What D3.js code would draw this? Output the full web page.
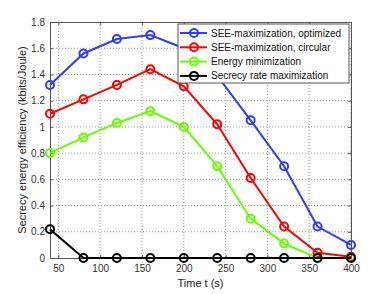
<!DOCTYPE html>
<html>
<head>
<meta charset="utf-8">
<script src="https://cdn.jsdelivr.net/npm/d3@7"></script>
<style>
  body { margin: 0; background: #fff; }
  text { font-family: "Liberation Sans", Arial, sans-serif; }
</style>
</head>
<body>
<div id="chart"></div>
<script>
// time axis (s)
const times = [40, 80, 120, 160, 200, 240, 280, 320, 360, 400]

const seeOptimized = [1.32, 1.56, 1.67, 1.70, 1.60, 1.39, 1.05, 0.70, 0.24, 0.10]
const seeCircular = [1.10, 1.21, 1.32, 1.44, 1.31, 1.02, 0.61, 0.24, 0.04, 0.01]
const energyMin = [0.80, 0.92, 1.03, 1.12, 1.00, 0.70, 0.30, 0.11, 0.00, 0.00]
const secrecyRateMax = [0.22, 0, 0, 0, 0, 0, 0, 0, 0, 0]

const seriesNames = ['SEE-maximization, optimized', 'SEE-maximization, circular', 'Energy minimization', 'Secrecy rate maximization']
const seriesColors = ['#2f3cff', '#ff0000', '#66ff00', '#000000']

const xTicks = [50, 100, 150, 200, 250, 300, 350, 400]
const yTicks = [0, 0.2, 0.4, 0.6, 0.8, 1, 1.2, 1.4, 1.6, 1.8]

const series = [seeOptimized, seeCircular, energyMin, secrecyRateMax].map((vals, i) => ({
  name: seriesNames[i],
  color: seriesColors[i],
  values: vals.map((v, j) => ({ t: times[j], v: v }))
}))

const margin = { top: 22, right: 37, bottom: 36, left: 50 }
const width = 388 - margin.left - margin.right
const height = 294 - margin.top - margin.bottom

const svg = d3.select('#chart').append('svg')
    .attr('width', 388)
    .attr('height', 294)
  .append('g')
    .attr('transform', 'translate(' + margin.left + ',' + margin.top + ')')

const x = d3.scaleLinear().domain([40, 400]).range([0, width])
const y = d3.scaleLinear().domain([0, 1.8]).range([height, 0])

// dotted grid
svg.append('g')
  .selectAll('line')
  .data(xTicks)
  .join('line')
  .attr('x1', d => x(d)).attr('x2', d => x(d))
  .attr('y1', 0).attr('y2', height)
  .attr('stroke', '#999').attr('stroke-width', 1)
  .attr('stroke-dasharray', '1,2')

svg.append('g')
  .selectAll('line')
  .data(yTicks.slice(1, -1))
  .join('line')
  .attr('x1', 0).attr('x2', width)
  .attr('y1', d => y(d)).attr('y2', d => y(d))
  .attr('stroke', '#999').attr('stroke-width', 1)
  .attr('stroke-dasharray', '1,2')

// axes, matlab style with inward ticks
const xAxis = d3.axisBottom(x).tickValues(xTicks).tickSizeInner(-3).tickSizeOuter(0).tickPadding(7)
const yAxis = d3.axisLeft(y).tickValues(yTicks).tickSizeInner(-3).tickSizeOuter(0).tickPadding(5)
  .tickFormat(d => d3.format('')(+d.toFixed(1)))

svg.append('g')
  .attr('transform', 'translate(0,' + height + ')')
  .call(xAxis)
  .call(g => g.selectAll('text').attr('font-size', 10).attr('fill', '#333'))

svg.append('g')
  .call(yAxis)
  .call(g => g.selectAll('text').attr('font-size', 10).attr('fill', '#333'))

// top and right of the box
svg.append('g').call(d3.axisTop(x).tickValues(xTicks).tickSizeInner(-3).tickSizeOuter(0).tickFormat(''))
svg.append('g').attr('transform', 'translate(' + width + ',0)')
  .call(d3.axisRight(y).tickValues(yTicks).tickSizeInner(-3).tickSizeOuter(0).tickFormat(''))
svg.selectAll('.domain, .tick line').attr('stroke', '#555')

const line = d3.line().x(d => x(d.t)).y(d => y(d.v))

const groups = svg.selectAll('.series')
  .data(series)
  .join('g')
  .attr('class', 'series')

groups.append('path')
  .attr('d', d => line(d.values))
  .attr('fill', 'none')
  .attr('stroke', d => d.color)
  .attr('stroke-width', 2)

groups.selectAll('circle')
  .data(d => d.values.map(p => ({ t: p.t, v: p.v, color: d.color })))
  .join('circle')
  .attr('cx', d => x(d.t))
  .attr('cy', d => y(d.v))
  .attr('r', 4)
  .attr('fill', 'none')
  .attr('stroke', d => d.color)
  .attr('stroke-width', 2)

// legend
const legend = svg.append('g')
  .attr('transform', 'translate(' + (x(40) + 128) + ',2)')

legend.append('rect')
  .attr('width', 171)
  .attr('height', 59)
  .attr('fill', '#fff')
  .attr('stroke', '#555')
  .attr('stroke-width', 1)

const items = legend.selectAll('.item')
  .data(series)
  .join('g')
  .attr('class', 'item')
  .attr('transform', (d, i) => 'translate(0,' + (9 + i * 14.3) + ')')

items.append('line')
  .attr('x1', 2).attr('x2', 29)
  .attr('stroke', d => d.color).attr('stroke-width', 2)

items.append('circle')
  .attr('cx', 16).attr('r', 4)
  .attr('fill', 'none')
  .attr('stroke', d => d.color).attr('stroke-width', 2)

items.append('text')
  .attr('x', 33)
  .attr('dy', '0.35em')
  .attr('font-size', 10)
  .attr('fill', '#111')
  .text(d => d.name)

// axis labels
svg.append('text')
  .text('Time t (s)')
  .attr('x', width / 2)
  .attr('y', height + 29)
  .attr('text-anchor', 'middle')
  .attr('font-size', 11)
  .attr('fill', '#222')

svg.append('text')
  .text('Secrecy energy efficiency (kbits/Joule)')
  .attr('transform', 'translate(-24,' + (height / 2) + ') rotate(-90)')
  .attr('text-anchor', 'middle')
  .attr('font-size', 11)
  .attr('fill', '#222')
</script>
</body>
</html>
